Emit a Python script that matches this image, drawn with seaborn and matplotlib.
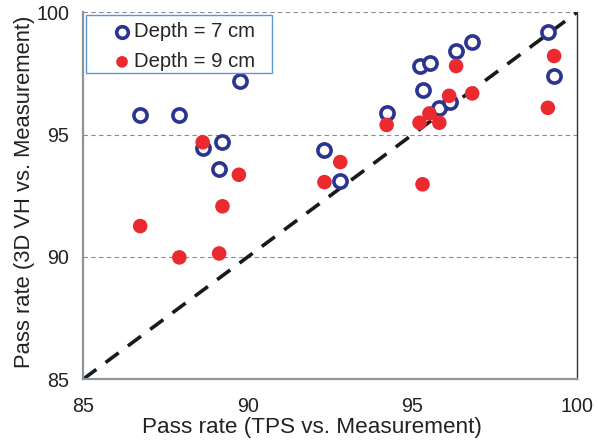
import matplotlib
matplotlib.use("Agg")
import matplotlib.pyplot as plt
from matplotlib.patches import Rectangle
import seaborn as sns
import pandas as pd

# Pass rates: TPS vs. measurement (x) and 3D VH vs. measurement (y)
tps_7cm = [86.73, 87.92, 89.75, 88.63, 89.23, 89.13, 92.33, 92.81, 94.22,
           95.23, 95.54, 95.32, 96.33, 96.82, 95.82, 96.14, 99.12, 99.31]
vh_7cm = [95.80, 95.80, 97.21, 94.47, 94.69, 93.58, 94.37, 93.10, 95.87,
          97.81, 97.92, 96.83, 98.42, 98.81, 96.10, 96.35, 99.21, 97.40]

tps_9cm = [86.73, 87.92, 88.63, 89.73, 89.23, 89.13, 92.33, 92.81, 94.22,
           95.31, 95.22, 95.52, 95.82, 96.12, 96.33, 96.82, 99.12, 99.31]
vh_9cm = [91.26, 89.98, 94.69, 93.36, 92.07, 90.14, 93.06, 93.88, 95.40,
          92.97, 95.49, 95.87, 95.49, 96.59, 97.81, 96.69, 96.10, 98.22]

series_labels = ["Depth = 7 cm", "Depth = 9 cm"]
axis_ticks = [85, 90, 95, 100]

sns.set_theme(style="white")
plt.rcParams["font.family"] = ["Liberation Sans", "DejaVu Sans"]

fig, ax = plt.subplots(figsize=(5.99, 4.46), dpi=100)
fig.subplots_adjust(left=0.139, right=0.963, top=0.972, bottom=0.150)

df7 = pd.DataFrame({"tps": tps_7cm, "vh": vh_7cm, "depth": series_labels[0]})
df9 = pd.DataFrame({"tps": tps_9cm, "vh": vh_9cm, "depth": series_labels[1]})

# reference gridlines and identity line
for yv in axis_ticks[1:]:
    ax.axhline(yv, color="#8a8a8a", lw=0.8, ls=(0, (4, 3)), zorder=0)
ax.plot([85, 100], [85, 100], color="#1a1a1a", lw=2.6, ls=(0, (4.5, 3.2)), zorder=1)

sns.scatterplot(data=df7, x="tps", y="vh", ax=ax, marker="o", s=90,
                facecolor="white", edgecolor="#2b3590", linewidth=2.6,
                label=series_labels[0], zorder=3)
sns.scatterplot(data=df9, x="tps", y="vh", ax=ax, marker="o", s=110,
                color="#ea2a2f", edgecolor="none", linewidth=0,
                label=series_labels[1], zorder=4)

ax.set_xlim(85, 100)
ax.set_ylim(85, 100)
ax.set_xticks(axis_ticks)
ax.set_yticks(axis_ticks)
ax.set_xticklabels([str(t) for t in axis_ticks])
ax.set_yticklabels([str(t) for t in axis_ticks])
ax.tick_params(axis="x", direction="in", length=5, width=0.8, color="#aaaaaa",
               labelsize=14.2, pad=13, labelcolor="#222222")
ax.tick_params(axis="y", length=0, labelsize=14.2, pad=10, labelcolor="#222222")
ax.set_xlabel("Pass rate (TPS vs. Measurement)", fontsize=16.2, color="#222222")
ax.set_ylabel("Pass rate (3D VH vs. Measurement)", fontsize=15.8, color="#222222")
ax.xaxis.set_label_coords(0.4636, -0.1030)
ax.yaxis.set_label_coords(-0.097, 0.5116)

for side in ("left", "bottom"):
    ax.spines[side].set_color("#8e949c")
    ax.spines[side].set_linewidth(1.6)
ax.spines["right"].set_color("#333333")
ax.spines["right"].set_linewidth(1.0)
ax.spines["top"].set_visible(False)

# legend box outline
ax.add_patch(Rectangle((0.006, 0.834), 0.377, 0.160, transform=ax.transAxes,
                       fill=True, facecolor="white", edgecolor="#5b9bd5",
                       linewidth=1.0, zorder=5))

leg = ax.legend(loc="upper left", bbox_to_anchor=(0.058, 0.974), frameon=False,
                fontsize=14.6, handletextpad=0.08, handlelength=1.0,
                borderpad=0.0, labelspacing=0.55, borderaxespad=0.0)
leg.set_zorder(6)
for h in leg.legend_handles:
    h.set_sizes([70])

fig.savefig("out.png", dpi=100)
